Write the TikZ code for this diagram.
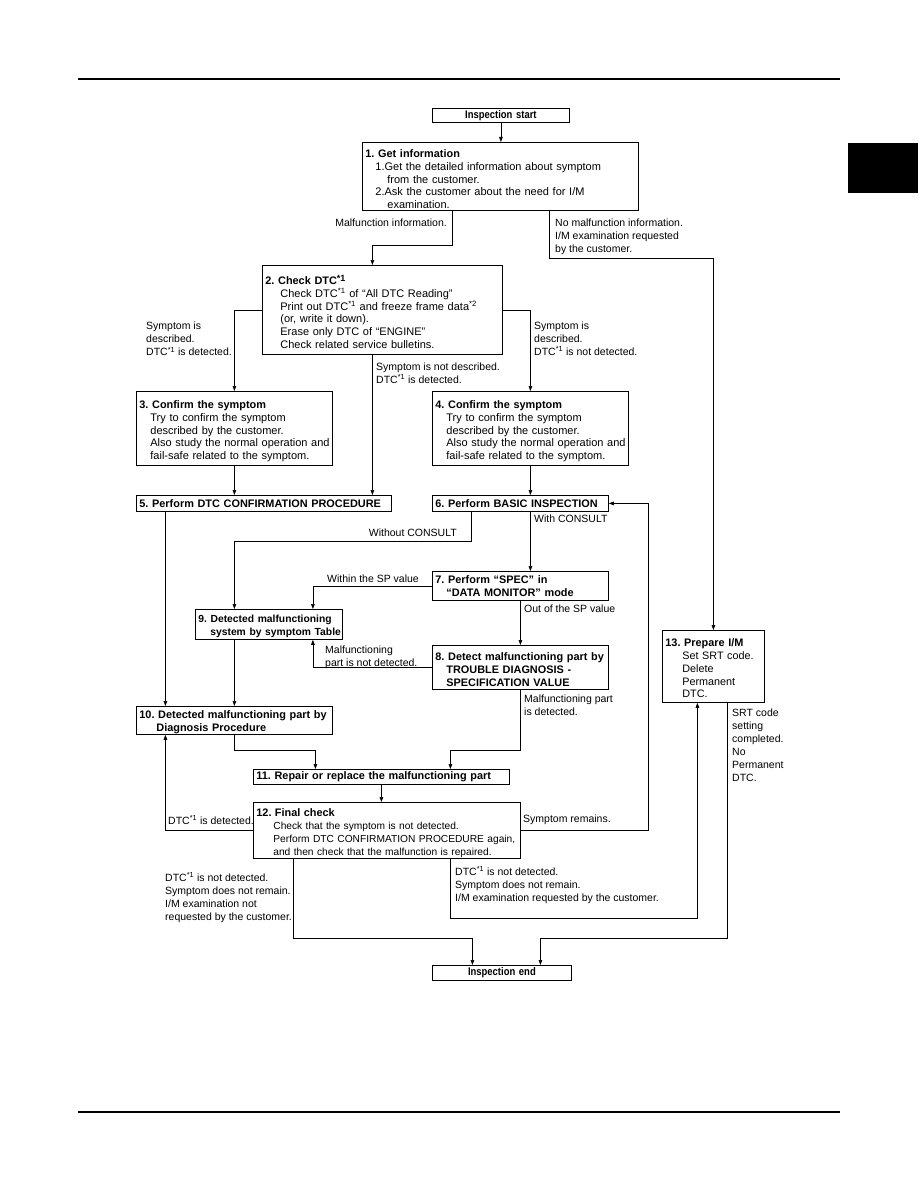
\documentclass[tikz,border=0pt]{standalone}
\usepackage{fontspec}
\setmainfont{Liberation Sans}
\newfontfamily\narrowfam{Liberation Sans}[FakeStretch=0.86]
\usetikzlibrary{arrows.meta}
\frenchspacing
\newcommand{\fsz}[1]{\fontsize{#1}{12.8}\selectfont}
\newcommand{\fs}{\fontsize{10.5}{13}\selectfont}
\newcommand{\fst}{\narrowfam\fontsize{11}{12}\selectfont\bfseries}
\newcommand{\tb}[1]{{\fontsize{10.9}{12.8}\selectfont\bfseries #1}}
\newcommand{\tbs}[1]{{\fontsize{10.3}{12.8}\selectfont\bfseries #1}}
\newcommand{\tstrut}{\rule{0pt}{13.5pt}}
\newcommand{\dsup}{\textsuperscript{*1}}
\newcommand{\lin}[2][0pt]{\mbox{\hspace*{#1}#2}}
\tikzset{
  bx/.style={draw=black, line width=0.8pt, anchor=north west, inner xsep=3pt, inner ysep=0pt,
    align=left, font=\fsz{11}},
  cbx/.style={draw=black, line width=0.8pt, anchor=north west, inner xsep=3pt, inner ysep=0pt,
    align=center, font=\fst},
  lbl/.style={font=\fs, align=left, inner sep=0pt},
  arr/.style={draw=black, line width=0.7pt, -{Triangle[length=5pt,width=3.6pt]}}
}
\begin{document}
\begin{tikzpicture}[x=1pt,y=-1pt]
\useasboundingbox (0,0) rectangle (918,1188);
% page decorations
\draw[line width=2pt] (78,79) -- (840,79);
\draw[line width=1.2pt] (78,1112) -- (840,1112);
\fill (848,143) rectangle (918,193);

% boxes
\node[cbx, minimum width=137pt, minimum height=14pt, text width=131pt] (start) at (432,108) {Inspection start};
\node[bx, minimum width=276pt, minimum height=68pt, text width=270pt] (n1) at (362,142)
 {\lin{\tstrut\tb{1. Get information}}\\
  \lin[10pt]{1.Get the detailed information about symptom}\\
  \lin[22pt]{from the customer.}\\
  \lin[10pt]{2.Ask the customer about the need for I/M}\\
  \lin[22pt]{examination.}};
\node[bx, minimum width=240pt, minimum height=89pt, text width=234pt] (n2) at (262,265)
 {\lin{\tstrut\tb{2. Check DTC\raisebox{3.5pt}{\fontsize{9}{8}\selectfont\bfseries *1}}}\\
  \lin[15pt]{Check DTC\dsup{} of “All DTC Reading”}\\
  \lin[15pt]{Print out DTC\dsup{} and freeze frame data\textsuperscript{*2}}\\
  \lin[15pt]{(or, write it down).}\\
  \lin[15pt]{Erase only DTC of “ENGINE”}\\
  \lin[15pt]{Check related service bulletins.}};
\node[bx, minimum width=196pt, minimum height=74pt, text width=190pt] (n3) at (136,391)
 {\lin{\tstrut\tb{3. Confirm the symptom}}\\
  \lin[11pt]{Try to confirm the symptom}\\
  \lin[11pt]{described by the customer.}\\
  \lin[11pt]{Also study the normal operation and}\\
  \lin[11pt]{fail-safe related to the symptom.}};
\node[bx, minimum width=196pt, minimum height=74pt, text width=190pt] (n4) at (432,391)
 {\lin{\tstrut\tb{4. Confirm the symptom}}\\
  \lin[11pt]{Try to confirm the symptom}\\
  \lin[11pt]{described by the customer.}\\
  \lin[11pt]{Also study the normal operation and}\\
  \lin[11pt]{fail-safe related to the symptom.}};
\node[bx, minimum width=255pt, minimum height=16pt, text width=249pt] (n5) at (136,495)
 {\lin{\tb{5. Perform DTC CONFIRMATION PROCEDURE}}};
\node[bx, minimum width=176pt, minimum height=16pt, text width=170pt] (n6) at (432,495)
 {\lin{\tb{6. Perform BASIC INSPECTION}}};
\node[bx, minimum width=176pt, minimum height=29pt, text width=170pt] (n7) at (432,571)
 {\lin{\tb{7. Perform “SPEC” in}}\\
  \lin[11pt]{\tb{“DATA MONITOR” mode}}};
\node[bx, minimum width=147pt, minimum height=30pt, text width=141pt] (n9) at (195,609)
 {\lin{\rule{0pt}{12pt}\tbs{9. Detected malfunctioning}}\\
  \lin[12pt]{\tbs{system by symptom Table}}};
\node[bx, minimum width=176pt, minimum height=44pt, text width=170pt] (n8) at (432,645)
 {\lin{\rule{0pt}{12pt}\tb{8. Detect malfunctioning part by}}\\
  \lin[11pt]{\tb{TROUBLE DIAGNOSIS -}}\\
  \lin[11pt]{\tb{SPECIFICATION VALUE}}};
\node[bx, minimum width=196pt, minimum height=28pt, text width=190pt] (n10) at (136,706)
 {\lin{\rule{0pt}{11.5pt}\tb{10. Detected malfunctioning part by}}\\
  \lin[17pt]{\tb{Diagnosis Procedure}}};
\node[bx, minimum width=256pt, minimum height=15pt, text width=250pt] (n11) at (253,769)
 {\lin{\tb{11. Repair or replace the malfunctioning part}}};
\node[bx, font=\fsz{10.2}, minimum width=267pt, minimum height=56pt, text width=261pt] (n12) at (253,802)
 {\lin{\tstrut\tb{12. Final check}}\\
  \lin[17pt]{Check that the symptom is not detected.}\\
  \lin[17pt]{Perform DTC CONFIRMATION PROCEDURE again,}\\
  \lin[17pt]{and then check that the malfunction is repaired.}};
\node[bx, font=\fsz{10.8}, minimum width=102pt, minimum height=72pt, text width=96pt] (n13) at (662,630)
 {\lin{\rule{0pt}{12pt}\tb{13. Prepare I/M}}\\
  \lin[17pt]{Set SRT code.}\\
  \lin[17pt]{Delete}\\
  \lin[17pt]{Permanent}\\
  \lin[17pt]{DTC.}};
\node[cbx, minimum width=139pt, minimum height=15pt, text width=133pt] (end) at (432,965) {Inspection end};

% connectors
\draw[arr] (start.south) -- (start.south |- n1.north);
\draw[arr] ([xshift=-48pt]n1.south) -- ++(0,35) -| ([xshift=-10pt]n2.north);
\draw[arr] ([xshift=49pt]n1.south) -- ++(0,48) -| (n13.north);
\draw[arr] (n2.west) -| (n3.north);
\draw[arr] (n2.east) -| (n4.north);
\draw[arr] ([xshift=-10pt]n2.south) -- ([xshift=-10pt]n2.south |- n5.north);
\draw[arr] (n3.south) -- (n3.south |- n5.north);
\draw[arr] (n4.south) -- (n4.south |- n6.north);
\draw[arr] ([xshift=-49pt]n6.south) -- ++(0,30) -| (n10.north |- n9.north);
\draw[arr] ([xshift=10pt]n6.south) -- ([xshift=10pt]n7.north);
\draw[arr] (n7.west) -| ([xshift=44pt]n9.north);
\draw[arr] (n7.south) -- (n8.north);
\draw[arr] (n8.west) -| ([xshift=44pt]n9.south);
\draw[arr] (n8.south) -- ++(0,61) -| ([xshift=69pt]n11.north);
\draw[arr] ([xshift=-98.5pt]n5.south) -- ([xshift=-98.5pt]n5.south |- n10.north);
\draw[arr] (n10.north |- n9.south) -- (n10.north);
\draw[arr] (n10.south) -- ++(0,16) -| ([xshift=-66pt]n11.north);
\draw[arr] (n11.south) -- (n11.south |- n12.north);
\draw[arr] (n12.west) -| ([xshift=-69pt]n10.south);
\draw[arr] (n12.east) -- ++(128,0) |- (n6.east);
\draw[arr] ([xshift=-93.5pt]n12.south) -- ++(0,80) -| ([xshift=-29.5pt]end.north);
\draw[arr] ([xshift=63.5pt]n12.south) -- ++(0,60) -| ([xshift=-16pt]n13.south);
\draw[arr] ([xshift=14pt]n13.south) -- ++(0,236) -| ([xshift=38.5pt]end.north);

% labels
\node[lbl, anchor=east] (l1) at (447,222.5) {Malfunction information.};
\node[lbl, anchor=north west] (l2) at (555,218.5) {No malfunction information.\\I/M examination requested\\by the customer.};
\node[lbl, anchor=north west] (l3) at (146,321.5) {Symptom is\\described.\\DTC\raisebox{-1pt}{\dsup} is detected.};
\node[lbl, anchor=north west] (l4) at (534,321.5) {Symptom is\\described.\\DTC\dsup{} is not detected.};
\node[lbl, anchor=north west] (l5) at (376,362.5) {Symptom is not described.\\DTC\dsup{} is detected.};
\node[lbl, anchor=east] (l6) at (457,533) {Without CONSULT};
\node[lbl, anchor=west] (l7) at (534,519) {With CONSULT};
\node[lbl, anchor=east] (l8) at (419,579) {Within the SP value};
\node[lbl, anchor=west] (l9) at (524,609) {Out of the SP value};
\node[lbl, anchor=north west] (l10) at (325,645.5) {Malfunctioning\\part is not detected.};
\node[lbl, anchor=north west] (l11) at (524,694.5) {Malfunctioning part\\is detected.};
\node[lbl, anchor=west] (l12) at (168,820) {DTC\dsup{} is detected.};
\node[lbl, anchor=west] (l13) at (523,820) {Symptom remains.};
\node[lbl, anchor=north west] (l14) at (165,872) {DTC\dsup{} is not detected.\\Symptom does not remain.\\I/M examination not\\requested by the customer.};
\node[lbl, anchor=north west] (l15) at (455,866) {DTC\dsup{} is not detected.\\Symptom does not remain.\\I/M examination requested by the customer.};
\node[lbl, anchor=north west] (l16) at (732,709) {SRT code\\setting\\completed.\\No\\Permanent\\DTC.};
\end{tikzpicture}
\end{document}
